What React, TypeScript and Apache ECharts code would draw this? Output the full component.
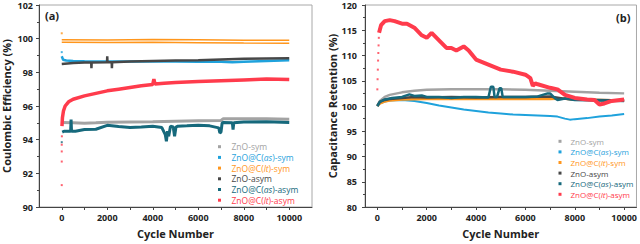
import React, { useEffect, useRef } from "react";
import * as echarts from "echarts";

// ---------- names & colours ----------
const seriesNames = ["ZnO-sym", "ZnO@C(as)-sym", "ZnO@C(lt)-sym", "ZnO-asym", "ZnO@C(as)-asym", "ZnO@C(lt)-asym"];
const seriesColors = ["#a3a3a3", "#1fa2dc", "#ff961c", "#474747", "#16697c", "#ff3b4c"];

// ---------- axis ticks ----------
const xLabelValues = [0, 2000, 4000, 6000, 8000, 10000];
const xTickValues = [0, 1000, 2000, 3000, 4000, 5000, 6000, 7000, 8000, 9000, 10000];

// ---------- (a) Coulombic efficiency ----------
const ceZnOSymCycles = [0, 500, 1000, 1500, 2000, 3000, 4000, 5000, 6000, 7000, 7100, 8000, 9000, 10000];
const ceZnOSym = [95.02, 95.0, 94.97, 95.0, 95.04, 95.05, 95.06, 95.1, 95.12, 95.14, 95.24, 95.25, 95.24, 95.22];

const ceAsSymCycles = [0, 60, 200, 500, 1000, 2000, 3000, 4000, 5000, 6000, 7000, 7500, 8000, 9000, 10000];
const ceAsSym = [98.95, 98.75, 98.7, 98.68, 98.66, 98.65, 98.65, 98.64, 98.64, 98.63, 98.63, 98.6, 98.63, 98.68, 98.72];

const ceLtSymCycles = [0, 2000, 4000, 6000, 8000, 10000];
const ceLtSymUpper = [99.93, 99.92, 99.95, 99.93, 99.91, 99.91];
const ceLtSymLower = [99.78, 99.77, 99.78, 99.76, 99.74, 99.73];

const ceZnOAsymCycles = [0, 500, 1000, 1295, 1305, 1315, 1990, 2000, 2010, 2195, 2205, 2215, 3000, 4000, 5000, 6000, 7000, 8000, 9000, 10000];
const ceZnOAsym = [98.5, 98.56, 98.58, 98.58, 98.25, 98.58, 98.6, 98.95, 98.6, 98.6, 98.25, 98.6, 98.64, 98.67, 98.7, 98.72, 98.76, 98.8, 98.82, 98.84];

const ceAsAsymCycles = [20, 100, 300, 390, 410, 430, 600, 1000, 1500, 2000, 2500, 3000, 3500, 4000, 4400, 4550, 4600, 4650, 4700, 4780, 4900, 4960, 5020, 5100, 5500, 6000, 6500, 6900, 6950, 7000, 7050, 7100, 7500, 7530, 7560, 8000, 9000, 10000];
const ceAsAsym = [94.45, 94.5, 94.5, 94.5, 95.2, 94.5, 94.5, 94.6, 94.62, 94.85, 94.78, 94.72, 94.75, 94.8, 94.72, 94.3, 93.9, 94.5, 94.2, 94.8, 94.75, 94.2, 94.75, 94.8, 94.82, 94.85, 94.82, 94.7, 94.4, 94.45, 95.0, 95.02, 95.0, 94.6, 95.0, 95.05, 95.06, 95.02];

const ceLtAsymCycles = [10, 30, 75, 150, 300, 500, 1000, 1500, 2000, 2500, 3000, 3500, 4000, 4050, 4100, 4500, 5000, 6000, 7000, 8000, 9000, 10000];
const ceLtAsym = [94.8, 95.3, 95.7, 96.0, 96.25, 96.4, 96.6, 96.75, 96.9, 97.0, 97.1, 97.2, 97.28, 97.6, 97.3, 97.35, 97.4, 97.45, 97.5, 97.55, 97.6, 97.58];

// first-cycle outliers of (a)
const ceEarlyRedCycles = [0, 0, 0, 0, 5];
const ceEarlyRed = [91.3, 92.7, 93.3, 93.7, 94.2];
const ceEarlyTealCycles = [0];
const ceEarlyTeal = [93.85];
const ceEarlyBlueCycles = [0];
const ceEarlyBlue = [99.2];
const ceEarlyOrangeCycles = [0];
const ceEarlyOrange = [100.32];

// ---------- (b) Capacitance retention ----------
const crZnOSymCycles = [0, 100, 300, 500, 1000, 1500, 2000, 3000, 4000, 5000, 6000, 7000, 8000, 9000, 10000];
const crZnOSym = [100, 101, 101.8, 102.2, 102.7, 103.0, 103.2, 103.3, 103.3, 103.3, 103.2, 103.0, 102.8, 102.6, 102.5];

const crAsSymCycles = [0, 100, 300, 500, 1000, 1500, 2000, 2500, 3000, 3500, 4000, 4500, 5000, 5500, 6000, 6500, 7000, 7300, 7600, 7800, 8000, 8500, 9000, 9500, 10000];
const crAsSym = [100, 100.5, 100.9, 101.1, 101.2, 101.0, 100.6, 100.1, 99.7, 99.3, 99.0, 98.7, 98.5, 98.3, 98.2, 98.1, 98.0, 97.9, 97.5, 97.3, 97.4, 97.6, 97.9, 98.1, 98.4];

const crLtSymCycles = [0, 100, 300, 500, 1000, 2000, 3000, 4000, 5000, 6000, 7000, 7500, 8000, 9000, 10000];
const crLtSym = [100, 100.5, 100.9, 101.1, 101.3, 101.4, 101.4, 101.4, 101.4, 101.4, 101.4, 101.5, 101.3, 101.2, 101.1];

const crZnOAsymCycles = [0, 100, 300, 500, 1000, 1500, 2000, 3000, 4000, 5000, 6000, 7000, 7500, 8000, 9000, 10000];
const crZnOAsym = [100, 100.8, 101.2, 101.4, 101.6, 101.8, 101.7, 101.8, 101.7, 101.8, 101.8, 101.9, 101.5, 101.3, 101.2, 101.1];

const crAsAsymCycles = [0, 100, 300, 600, 1000, 1300, 1500, 1800, 2000, 2500, 3000, 3500, 4000, 4500, 4600, 4700, 4750, 4850, 4950, 5020, 5080, 5200, 6000, 6500, 6900, 7000, 7200, 7300, 7600, 8000, 9000, 10000];
const crAsAsym = [100, 100.8, 101.3, 101.6, 101.8, 102.3, 102.0, 102.1, 101.8, 101.8, 101.6, 101.8, 101.8, 101.7, 103.8, 103.8, 101.8, 101.8, 103.5, 103.5, 101.8, 101.8, 101.8, 101.9, 102.5, 102.5, 101.5, 101.2, 101.5, 101.2, 101.1, 101.0];

const crLtAsymCycles = [70, 150, 300, 500, 700, 1000, 1200, 1500, 1800, 2000, 2200, 2500, 2800, 3000, 3200, 3500, 3700, 4000, 4500, 5000, 5500, 6000, 6200, 6300, 6400, 6500, 7000, 7300, 7600, 8000, 8500, 8800, 9000, 9200, 9500, 10000];
const crLtAsym = [114.5, 116, 116.8, 117, 116.8, 116.3, 116.3, 115.5, 114, 113.5, 114.5, 113, 111.5, 111.5, 111, 111.8, 111, 109.2, 108.2, 107.2, 106.8, 106.2, 105.5, 104, 104.5, 104.3, 103.6, 103.3, 102.2, 101.6, 101.3, 101.2, 100.3, 100.5, 101, 101.3];

const crEarlyRedCycles = [0, 10, 20, 30, 40, 50, 60];
const crEarlyRed = [103.3, 105.3, 107.2, 109, 110.5, 112, 113.5];

const FONT = "'Open Sans', 'DejaVu Sans', sans-serif";

function pairs(xs: number[], ys: number[]) {
  return xs.map((x, i) => [x, ys[i]]);
}

function lineSeries(idx: number, axis: number, xs: number[], ys: number[], width: number) {
  return {
    type: "line",
    name: seriesNames[idx],
    xAxisIndex: axis,
    yAxisIndex: axis,
    data: pairs(xs, ys),
    showSymbol: false,
    symbol: "none",
    lineStyle: { color: seriesColors[idx], width },
    itemStyle: { color: seriesColors[idx] },
    z: 2 + idx,
  };
}

function dotSeries(idx: number, axis: number, xs: number[], ys: number[]) {
  return {
    type: "scatter",
    name: seriesNames[idx],
    xAxisIndex: axis,
    yAxisIndex: axis,
    data: pairs(xs, ys),
    symbol: "rect",
    symbolSize: 2,
    itemStyle: { color: seriesColors[idx] },
    z: 2 + idx,
  };
}

// legend drawn as graphic: small square marker + coloured label with italic part
function legendGraphic(markerX: number, textX: number, firstY: number, step: number, fontSize: number) {
  const els: any[] = [];
  seriesNames.forEach((name, i) => {
    const y = firstY + i * step;
    const color = seriesColors[i];
    els.push({
      type: "rect",
      shape: { x: markerX - 1.5, y: y - 1.5, width: 3, height: 3 },
      style: { fill: color },
      silent: true,
      z: 100,
    });
    const m = name.match(/^(.*\()(as|lt)(\).*)$/);
    const text = m ? `{n|${m[1]}}{i|${m[2]}}{n|${m[3]}}` : `{n|${name}}`;
    els.push({
      type: "text",
      x: textX,
      y,
      z: 100,
      silent: true,
      style: {
        text,
        fill: color,
        align: "left",
        verticalAlign: "middle",
        fontFamily: FONT,
        fontSize,
        rich: {
          n: { fill: color, fontFamily: FONT, fontSize },
          i: { fill: color, fontFamily: FONT, fontSize, fontStyle: "italic" },
        },
      },
    });
  });
  return els;
}

function xAxisFor(gridIndex: number, min: number, max: number) {
  return {
    type: "value",
    gridIndex,
    min,
    max,
    name: "Cycle Number",
    nameLocation: "middle",
    nameGap: 21,
    nameTextStyle: { fontFamily: FONT, fontWeight: "bold", fontSize: 11, color: "#222" },
    axisLine: { show: true, onZero: false, lineStyle: { color: "#444", width: 1 } },
    axisTick: { show: true, inside: false, length: 3, customValues: xTickValues, lineStyle: { color: "#444" } },
    axisLabel: {
      customValues: xLabelValues,
      margin: 6,
      fontFamily: FONT,
      fontWeight: "bold",
      fontSize: 9,
      color: "#222",
      formatter: (v: number) => String(v),
    },
    splitLine: { show: false },
  };
}

function yAxisFor(gridIndex: number, min: number, max: number, interval: number, name: string, gap: number, margin: number) {
  return {
    type: "value",
    gridIndex,
    min,
    max,
    interval,
    name,
    nameLocation: "middle",
    nameGap: gap,
    nameTextStyle: { fontFamily: FONT, fontWeight: "bold", fontSize: 11, color: "#222" },
    axisLine: { show: true, onZero: false, lineStyle: { color: "#444", width: 1 } },
    axisTick: { show: true, inside: false, length: 3, lineStyle: { color: "#444" } },
    minorTick: { show: true, splitNumber: 2, length: 2, lineStyle: { color: "#444" } },
    axisLabel: { margin, fontFamily: FONT, fontWeight: "bold", fontSize: 9, color: "#222" },
    splitLine: { show: false },
  };
}

export default function App() {
  const ref = useRef<HTMLDivElement>(null);
  useEffect(() => {
    if (!ref.current) return;
    const chart = echarts.init(ref.current, null, { renderer: "svg" });
    chart.setOption({
      animation: false,
      backgroundColor: "#fff",
      grid: [
        { left: 38, top: 5, width: 274, height: 204, show: true, borderColor: "#a8a8a8", borderWidth: 1, backgroundColor: "transparent" },
        { left: 365, top: 5, width: 273, height: 203, show: true, borderColor: "#a8a8a8", borderWidth: 1, backgroundColor: "transparent" },
      ],
      xAxis: [xAxisFor(0, -1000, 11000), xAxisFor(1, -500, 10500)],
      yAxis: [
        yAxisFor(0, 90, 102, 2, "Coulombic Efficiency (%)", 27, 6),
        yAxisFor(1, 80, 120, 5, "Capacitance Retention (%)", 24, 8),
      ],
      graphic: [
        { type: "text", left: 45, top: 10, style: { text: "(a)", font: `bold 11px ${FONT}`, fill: "#222" } },
        { type: "text", left: 616, top: 12, style: { text: "(b)", font: `bold 11px ${FONT}`, fill: "#222" } },
        ...legendGraphic(219.5, 231.5, 146.7, 10.7, 8.5),
        ...legendGraphic(560, 570.5, 141.3, 10.6, 8),
      ],
      series: [
        lineSeries(0, 0, ceZnOSymCycles, ceZnOSym, 3),
        lineSeries(1, 0, ceAsSymCycles, ceAsSym, 2.5),
        dotSeries(1, 0, ceEarlyBlueCycles, ceEarlyBlue),
        lineSeries(2, 0, ceLtSymCycles, ceLtSymUpper, 1.5),
        lineSeries(2, 0, ceLtSymCycles, ceLtSymLower, 1.5),
        dotSeries(2, 0, ceEarlyOrangeCycles, ceEarlyOrange),
        lineSeries(3, 0, ceZnOAsymCycles, ceZnOAsym, 2.5),
        lineSeries(4, 0, ceAsAsymCycles, ceAsAsym, 3),
        dotSeries(4, 0, ceEarlyTealCycles, ceEarlyTeal),
        lineSeries(5, 0, ceLtAsymCycles, ceLtAsym, 3.5),
        dotSeries(5, 0, ceEarlyRedCycles, ceEarlyRed),

        lineSeries(0, 1, crZnOSymCycles, crZnOSym, 2.5),
        lineSeries(1, 1, crAsSymCycles, crAsSym, 2),
        lineSeries(2, 1, crLtSymCycles, crLtSym, 2.5),
        lineSeries(3, 1, crZnOAsymCycles, crZnOAsym, 2.5),
        lineSeries(4, 1, crAsAsymCycles, crAsAsym, 2.5),
        lineSeries(5, 1, crLtAsymCycles, crLtAsym, 4),
        dotSeries(5, 1, crEarlyRedCycles, crEarlyRed),
      ],
    });
    return () => chart.dispose();
  }, []);
  return <div ref={ref} style={{ position: "fixed", left: 0, top: 0, width: 640, height: 244 }} />;
}
